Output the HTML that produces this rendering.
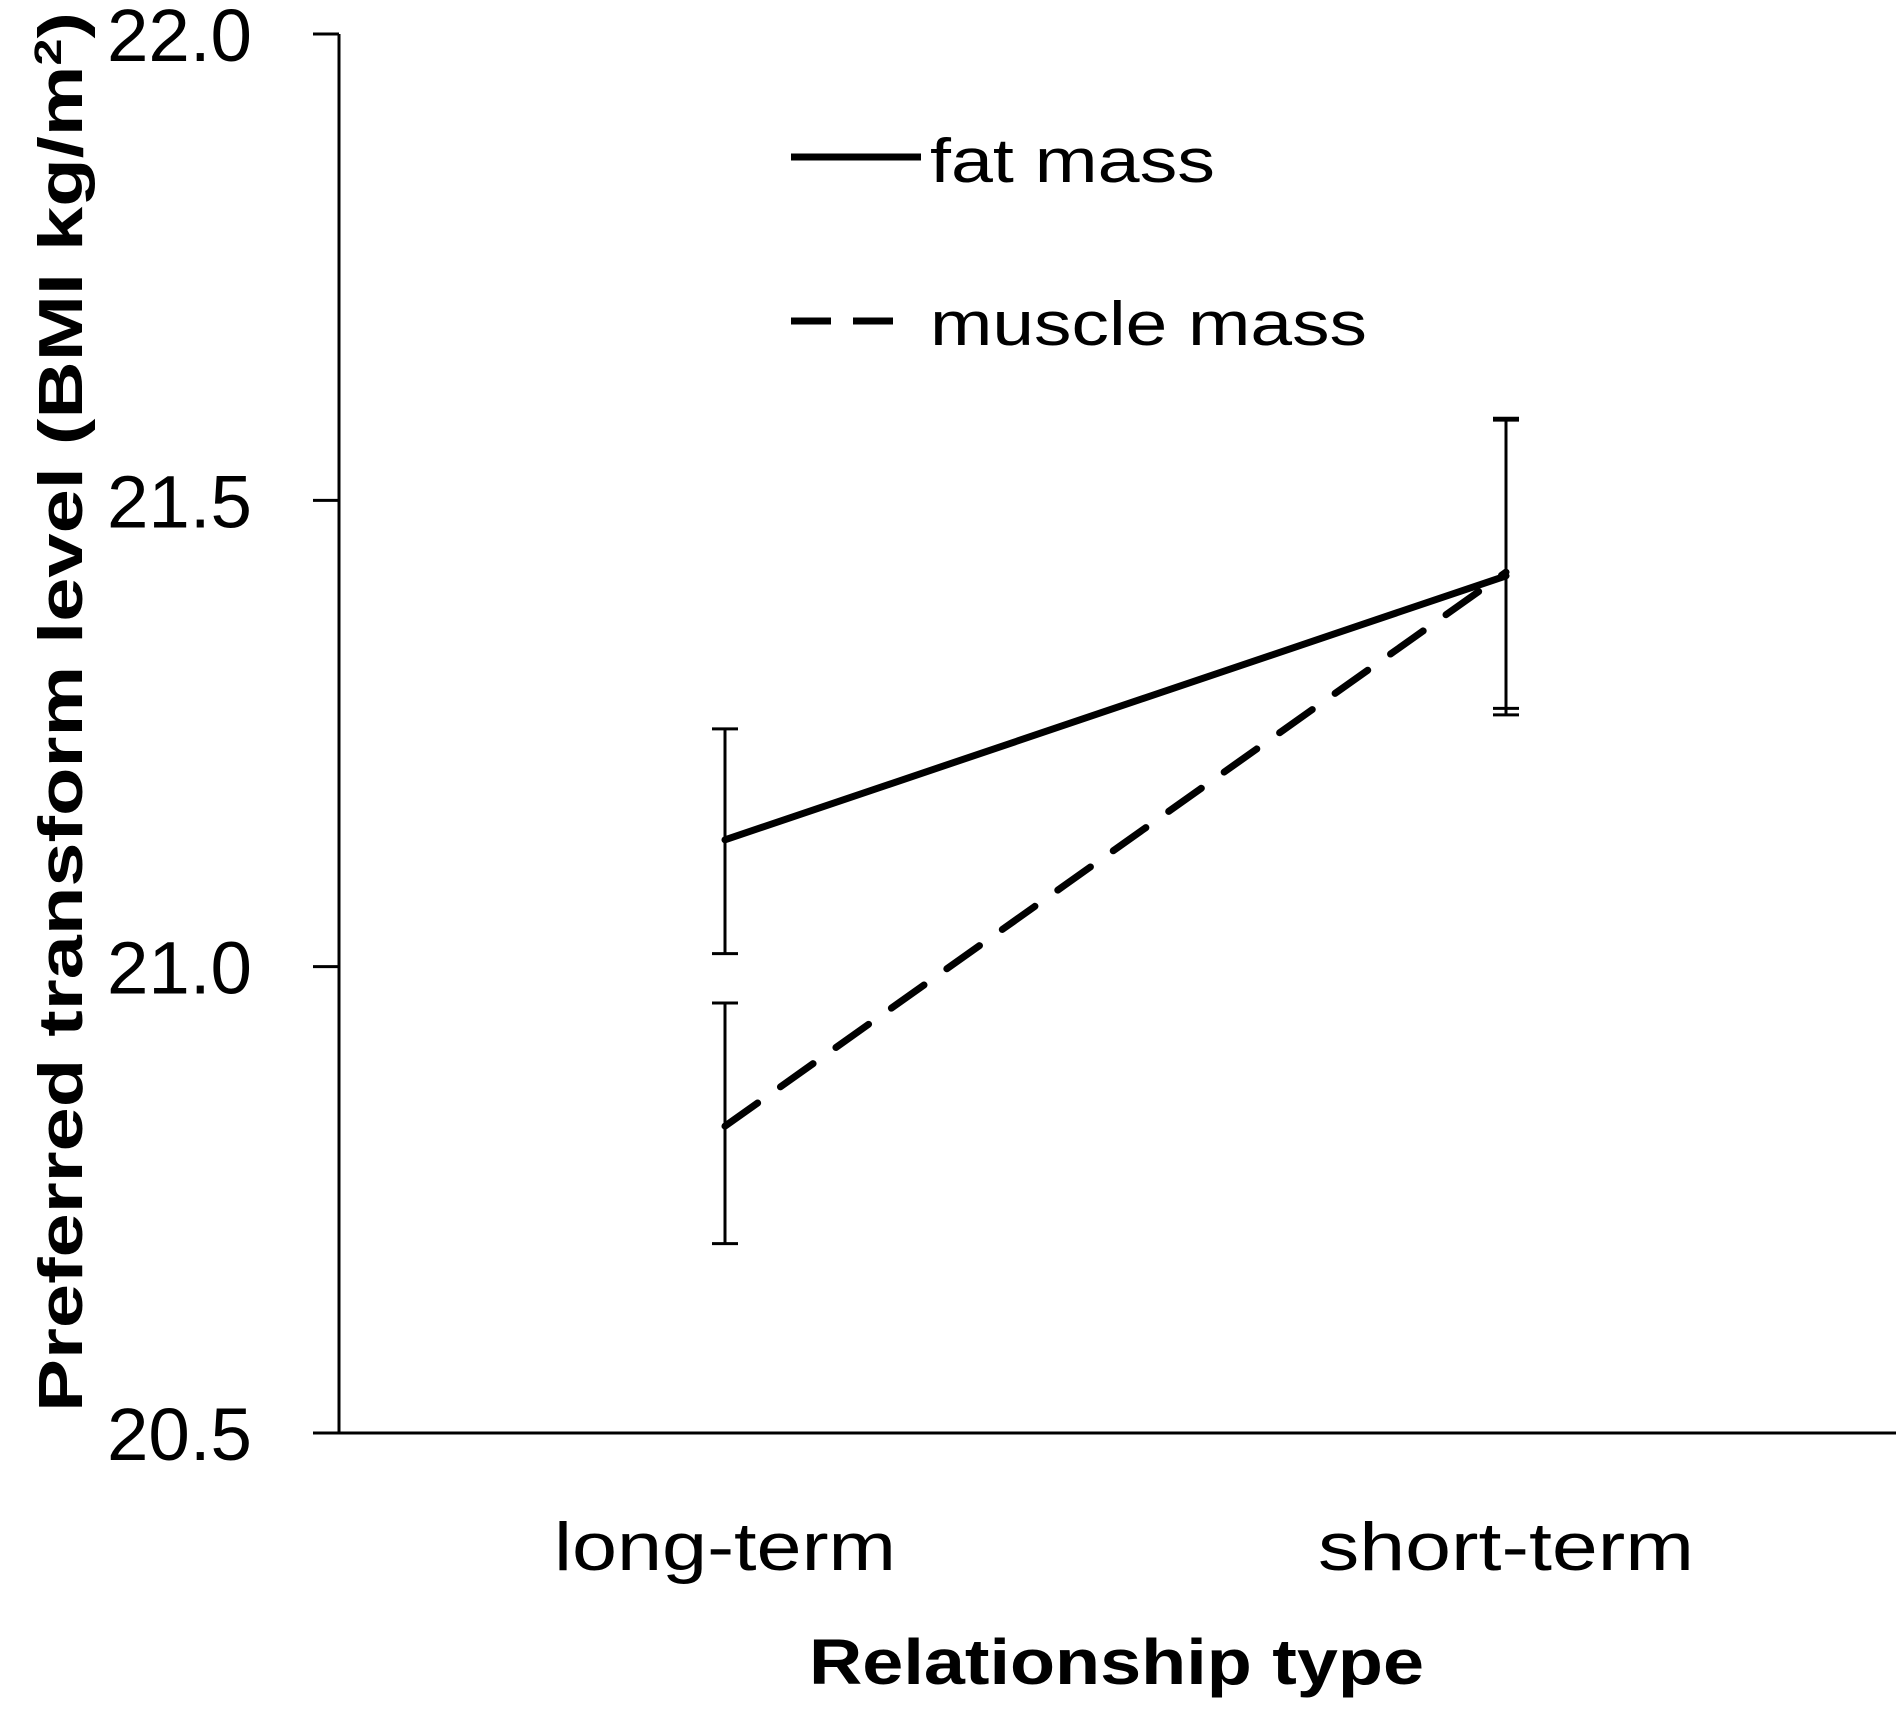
<!DOCTYPE html>
<html><head><meta charset="utf-8"><style>
html,body{margin:0;padding:0;background:#fff;}
svg text{font-family:"Liberation Sans",sans-serif;fill:#000;}
</style></head><body>
<svg id="chart" width="1900" height="1712" viewBox="0 0 1900 1712" xmlns="http://www.w3.org/2000/svg">
<g id="axes"></g>
<g id="series"></g>
<g>
<line x1="791" y1="157" x2="921" y2="157" stroke="#000" stroke-width="7"/>
<text x="930" y="182" font-size="62" textLength="285" lengthAdjust="spacingAndGlyphs">fat mass</text>
<line x1="791" y1="321" x2="915" y2="321" stroke="#000" stroke-width="7" stroke-dasharray="40,22"/>
<text x="930" y="345" font-size="62" textLength="437" lengthAdjust="spacingAndGlyphs">muscle mass</text>
</g>
<text x="809" y="1684" font-size="64" font-weight="bold" textLength="615" lengthAdjust="spacingAndGlyphs">Relationship type</text>
<text transform="translate(82,712) rotate(-90)" font-size="62" font-weight="bold" text-anchor="middle" textLength="1400" lengthAdjust="spacingAndGlyphs">Preferred transform level (BMI kg/m<tspan baseline-shift="super" font-size="38">2</tspan>)</text>
</svg>
<script>
const categories=["long-term","short-term"];
const yTicks=[20.5,21.0,21.5,22.0];
const yTickLabels=["20.5","21.0","21.5","22.0"];
const fatMean=[21.136,21.419];
const fatLow=[21.014,21.277];
const fatHigh=[21.255,21.586];
const muscleMean=[20.829,21.423];
const muscleLow=[20.703,21.270];
const muscleHigh=[20.961,21.588];

const NS="http://www.w3.org/2000/svg";
const catX=[725,1506];
const catW=[342,376];
function xPos(i){return catX[0]+(catX[1]-catX[0])*i/(categories.length-1);}
function yPos(v){return 1433-(v-20.5)/(22.0-20.5)*(1433-34);}
function mk(tag,attrs,parent){const e=document.createElementNS(NS,tag);for(const k in attrs)e.setAttribute(k,attrs[k]);parent.appendChild(e);return e;}
const axes=document.getElementById('axes');
const series=document.getElementById('series');
let e=mk('line',{x1:339,y1:34,x2:339,y2:1433,stroke:'#000','stroke-width':3},axes);


e=mk('line',{x1:313,y1:1433,x2:1896,y2:1433,stroke:'#000','stroke-width':3},axes);


yTicks.forEach((v,i)=>{
  const t=mk('line',{x1:313,y1:yPos(v),x2:339,y2:yPos(v),stroke:'#000','stroke-width':3},axes);
  
  
  const l=mk('text',{x:107,y:yPos(v)+27,'font-size':74,textLength:145,lengthAdjust:'spacingAndGlyphs'},axes);
  l.textContent=yTickLabels[i];
  
  
});
categories.forEach((c,i)=>{
  const l=mk('text',{x:xPos(i)-catW[i]/2,y:1570,'font-size':68,textLength:catW[i],lengthAdjust:'spacingAndGlyphs'},axes);
  l.textContent=c;
  
  
});
function drawSeries(name,mean,low,high,dash){
  for(let i=0;i<mean.length;i++){
    const x=xPos(i);
    const eb=mk('path',{d:`M${x} ${yPos(low[i])}V${yPos(high[i])}M${x-13} ${yPos(low[i])}H${x+13}M${x-13} ${yPos(high[i])}H${x+13}`,stroke:'#000','stroke-width':3,fill:'none'},series);
    
    
  }
  const pts=mean.map((v,i)=>xPos(i)+','+yPos(v)).join(' ');
  const ln=mk('polyline',{points:pts,stroke:'#000','stroke-width':7,fill:'none','stroke-linecap':'round'},series);
  if(dash)ln.setAttribute('stroke-dasharray','40,28');
  
  
}
drawSeries('fat-mass',fatMean,fatLow,fatHigh,false);
drawSeries('muscle-mass',muscleMean,muscleLow,muscleHigh,true);
</script>
</body></html>
